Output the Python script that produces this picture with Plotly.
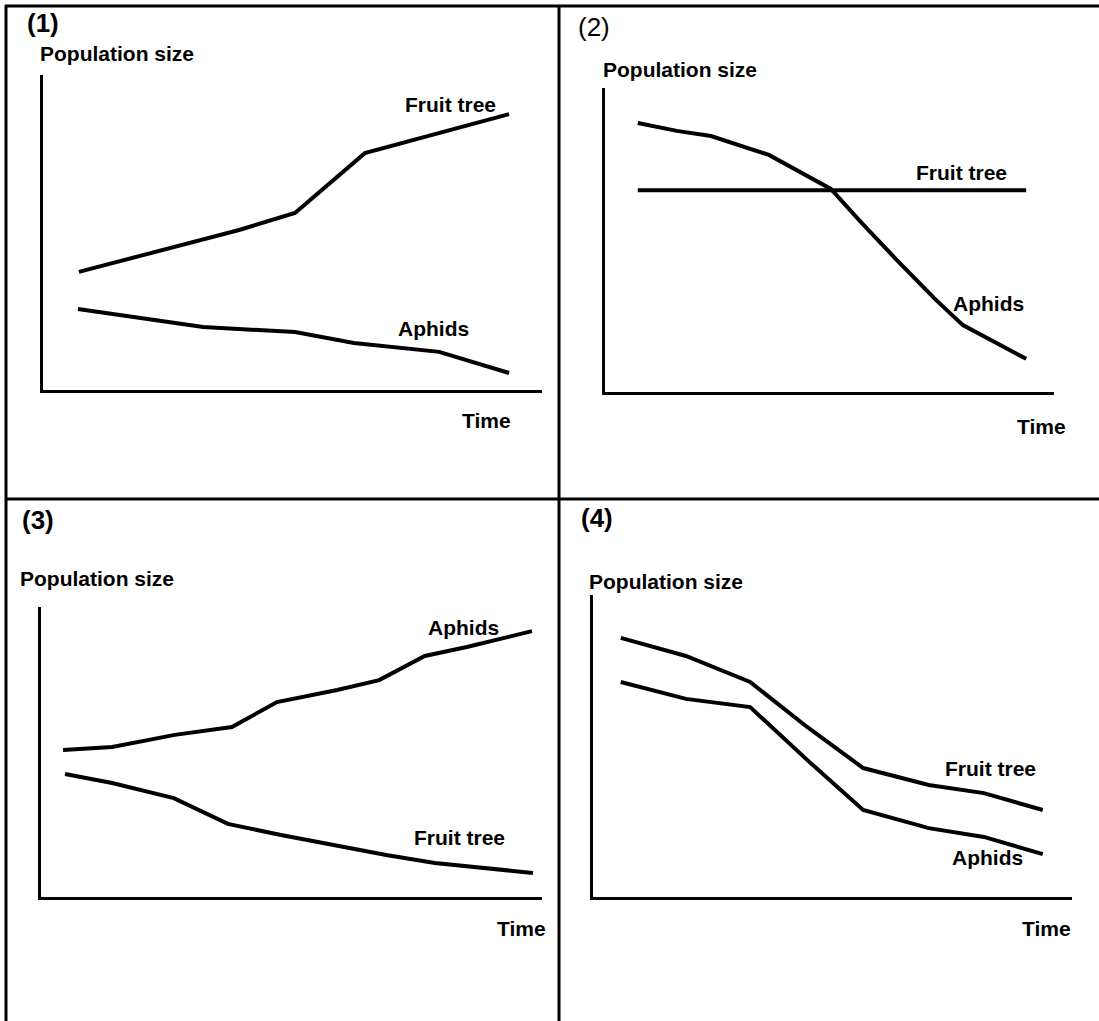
import plotly.graph_objects as go

# ---------------------------------------------------------------
# values (time and population in % of axis)
# ---------------------------------------------------------------
p1_tree_t = [7.2, 39.3, 50.5, 64.5, 93.4]
p1_tree = [37.5, 50.8, 56.2, 75.2, 87.6]
p1_aphid_t = [7.0, 32.1, 50.5, 62.3, 79.4, 93.4]
p1_aphid = [25.7, 20.0, 18.4, 14.9, 12.1, 5.4]

p2_tree_t = [7.3, 93.8]
p2_tree = [66.4, 66.4]
p2_aphid_t = [7.3, 16.0, 23.6, 36.5, 50.3, 57.0, 65.0, 73.7, 79.7, 86.6, 93.8]
p2_aphid = [88.5, 85.9, 84.2, 78.0, 66.8, 55.9, 43.4, 30.3, 22.0, 16.4, 10.9]

p3_aphid_t = [4.4, 14.2, 26.7, 38.1, 47.1, 59.1, 67.5, 76.6, 85.0, 98.0]
p3_aphid = [50.7, 51.7, 55.9, 58.6, 67.2, 71.4, 74.8, 83.1, 86.2, 91.7]
p3_tree_t = [4.8, 14.2, 26.5, 37.3, 47.9, 58.3, 68.9, 78.6, 87.8, 98.2]
p3_tree = [42.4, 39.3, 34.1, 25.2, 21.4, 17.9, 14.5, 11.7, 10.0, 8.3]

p4_t = [5.8, 19.4, 32.8, 44.7, 56.4, 70.1, 81.6, 93.9]
p4_tree = [85.8, 79.8, 71.2, 56.3, 42.7, 37.1, 34.4, 28.8]
p4_aphid = [71.2, 65.6, 62.9, 45.4, 28.8, 22.8, 19.9, 14.2]

panel_tags = ["(1)", "(2)", "(3)", "(4)"]
y_title = "Population size"
x_title = "Time"
tree_name = "Fruit tree"
aphid_name = "Aphids"

W, H = 1099, 1021
FONT = "Liberation Sans, Arial, sans-serif"

def px(x):
    return x / W

def py(y):
    return 1 - y / H

# pixel boxes of each small plot: left, right, top, bottom
boxes = [(43, 542, 75, 390), (605, 1054, 88, 392),
         (41, 542, 607, 897), (593, 1072, 595, 897)]

series = [
    [(p1_tree_t, p1_tree), (p1_aphid_t, p1_aphid)],
    [(p2_tree_t, p2_tree), (p2_aphid_t, p2_aphid)],
    [(p3_tree_t, p3_tree), (p3_aphid_t, p3_aphid)],
    [(p4_t, p4_tree), (p4_t, p4_aphid)],
]

fig = go.Figure()
layout = {}
for i, (box, lines) in enumerate(zip(boxes, series)):
    n = "" if i == 0 else str(i + 1)
    l, r, t, b = box
    layout["xaxis" + n] = dict(domain=[px(l), px(r)], range=[0, 100], anchor="y" + n,
                               showline=True, linewidth=3, linecolor="black",
                               showgrid=False, zeroline=False, showticklabels=False,
                               ticks="", fixedrange=True)
    layout["yaxis" + n] = dict(domain=[py(b), py(t)], range=[0, 100], anchor="x" + n,
                               showline=True, linewidth=3, linecolor="black",
                               showgrid=False, zeroline=False, showticklabels=False,
                               ticks="", fixedrange=True)
    for xs, ys in lines:
        fig.add_trace(go.Scatter(x=xs, y=ys, mode="lines", xaxis="x" + n, yaxis="y" + n,
                                 line=dict(color="black", width=4),
                                 hoverinfo="skip", showlegend=False))

def txt(s, x, y, size=21, bold=True, xanchor="center"):
    return dict(text="<b>" + s + "</b>" if bold else s, x=px(x), y=py(y),
                xref="paper", yref="paper", xanchor=xanchor, yanchor="middle",
                showarrow=False, font=dict(family=FONT, size=size, color="black"))

annotations = [
    txt(panel_tags[0], 43, 23, 26),
    txt(panel_tags[1], 594, 27, 26, bold=False),
    txt(panel_tags[2], 38, 520, 26),
    txt(panel_tags[3], 597, 518, 26),
    txt(y_title, 38, 53, xanchor="left"),
    txt(y_title, 601, 70, xanchor="left"),
    txt(y_title, 18, 578, xanchor="left"),
    txt(y_title, 587, 581, xanchor="left"),
    txt(x_title, 486, 420),
    txt(x_title, 1041, 426),
    txt(x_title, 521, 928),
    txt(x_title, 1046, 928),
    txt(tree_name, 450, 104),
    txt(aphid_name, 433, 329),
    txt(tree_name, 961, 172),
    txt(aphid_name, 988, 303),
    txt(aphid_name, 463, 627),
    txt(tree_name, 459, 837),
    txt(tree_name, 990, 768),
    txt(aphid_name, 987, 857),
]

# the printed frame around the four panels
frame = dict(type="line", xref="paper", yref="paper", line=dict(color="black", width=3))
shapes = [
    dict(frame, x0=px(6), x1=px(6), y0=0, y1=py(5)),
    dict(frame, x0=px(5), x1=1, y0=py(6), y1=py(6)),
    dict(frame, x0=px(559), x1=px(559), y0=0, y1=py(5)),
    dict(frame, x0=px(5), x1=1, y0=py(499), y1=py(499)),
]

fig.update_layout(
    width=W, height=H,
    margin=dict(l=0, r=0, t=0, b=0),
    plot_bgcolor="white", paper_bgcolor="white",
    showlegend=False, annotations=annotations, shapes=shapes,
    **layout,
)

# page body has a default 8px margin; drop it so the figure sits at 0,0
fig.write_html("out.html", config={"displayModeBar": False},
               post_script="document.body.style.margin='0';")
